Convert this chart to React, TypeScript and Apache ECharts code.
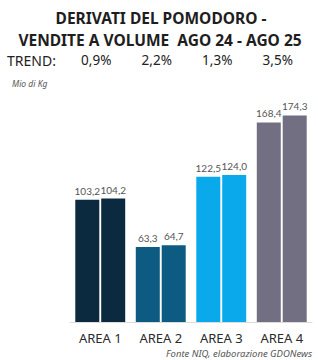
import React, { useEffect, useRef } from "react";
import * as echarts from "echarts";

const categories = ["AREA 1", "AREA 2", "AREA 3", "AREA 4"];
const ago24 = [103.2, 63.3, 122.5, 168.4];
const ago25 = [104.2, 64.7, 124.0, 174.3];
const trend = ["0,9%", "2,2%", "1,3%", "3,5%"];
const areaColors = ["#0b2a40", "#0d5b82", "#0aa9ec", "#736f83"];
const titleLines = ["DERIVATI DEL POMODORO -", "VENDITE A VOLUME  AGO 24 - AGO 25"];

const fmt = (v: number) => v.toFixed(1).replace(".", ",");

export default function App() {
  const ref = useRef<HTMLDivElement>(null);
  useEffect(() => {
    if (!ref.current) return;
    const chart = echarts.init(ref.current, null, { renderer: "svg" });
    const mkSeries = (name: string, vals: number[]) => ({
      name,
      type: "bar",
      barWidth: 24,
      barGap: "8%",
      data: vals.map((v, i) => ({ value: v, itemStyle: { color: areaColors[i] } })),
      label: {
        show: true,
        position: "top",
        distance: 4,
        formatter: (p: any) => fmt(p.value),
        color: "#555",
        fontSize: 10,
        fontFamily: "Lato",
      },
    });
    const titleStyle = {
      fontFamily: "Noto Sans",
      fontWeight: "bold",
      fontSize: 15.5,
      fill: "#1e1e1e",
      textAlign: "center",
      textVerticalAlign: "middle",
    };
    chart.setOption({
      animation: false,
      backgroundColor: "#fff",
      graphic: [
        { type: "text", x: 161, y: 18, style: { ...titleStyle, text: titleLines[0] } },
        { type: "text", x: 160, y: 40, style: { ...titleStyle, text: titleLines[1] } },
        {
          type: "text",
          x: 7,
          y: 60,
          style: { text: "TREND:", fontFamily: "Noto Sans", fontSize: 14, fill: "#222", textVerticalAlign: "middle" },
        },
        {
          type: "text",
          x: 12,
          y: 83,
          style: {
            text: "Mio di Kg",
            fontFamily: "Noto Sans",
            fontStyle: "italic",
            fontSize: 8.5,
            fill: "#555",
            textVerticalAlign: "middle",
          },
        },
        {
          type: "text",
          x: 312,
          y: 353,
          style: {
            text: "Fonte NIQ, elaborazione GDONews",
            fontFamily: "Noto Sans",
            fontStyle: "italic",
            fontSize: 9.5,
            fill: "#555",
            textAlign: "right",
            textVerticalAlign: "middle",
          },
        },
      ],
      grid: { left: 70, right: 6, top: 85, bottom: 38, containLabel: false },
      xAxis: [
        {
          type: "category",
          data: categories,
          position: "bottom",
          axisLine: { show: true, lineStyle: { color: "#dcdcdc", width: 1 } },
          axisTick: { show: false },
          axisLabel: { margin: 9, color: "#2a2a2a", fontSize: 13, fontFamily: "Noto Sans" },
        },
        {
          type: "category",
          data: trend,
          position: "top",
          axisLine: { show: false },
          axisTick: { show: false },
          axisLabel: { margin: 18, color: "#222", fontSize: 13.5, fontFamily: "Noto Sans", padding: [0, 8, 0, 0] },
        },
      ],
      yAxis: {
        type: "value",
        min: 0,
        max: 200,
        show: false,
      },
      series: [mkSeries("AGO 24", ago24), mkSeries("AGO 25", ago25)],
    });
    return () => chart.dispose();
  }, []);
  return <div ref={ref} style={{ width: 318, height: 360, position: "absolute", left: 0, top: 0 }} />;
}
